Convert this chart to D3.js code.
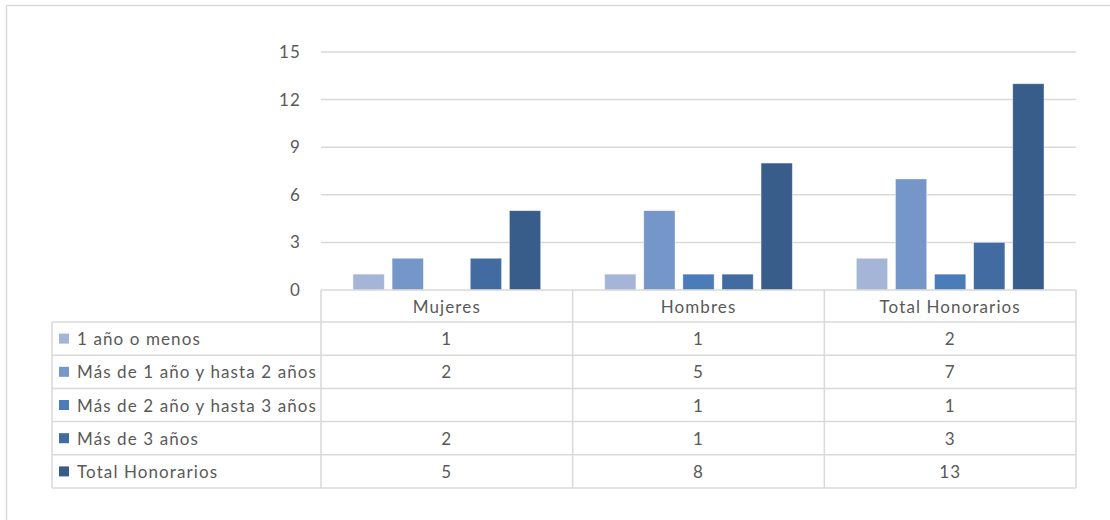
<!DOCTYPE html>
<html>
<head>
<meta charset="utf-8">
<script src="https://cdn.jsdelivr.net/npm/d3@7"></script>
<style>
  html, body { margin: 0; padding: 0; background: #fff; }
  svg { display: block; }
  text { font-family: Lato, "Open Sans", sans-serif; fill: #595959; letter-spacing: 1.1px; }
</style>
</head>
<body>
<svg id="chart" width="1110" height="520"></svg>
<script>
// Categories (columns) and series (rows of the data table)
const categories = ["Mujeres", "Hombres", "Total Honorarios"];
const seriesNames = [
  "1 año o menos",
  "Más de 1 año y hasta 2 años",
  "Más de 2 año y hasta 3 años",
  "Más de 3 años",
  "Total Honorarios"
];
const valsUnoOMenos = [1, 1, 2];
const valsUnoADos = [2, 5, 7];
const valsDosATres = [null, 1, 1];
const valsMasDeTres = [2, 1, 3];
const valsTotal = [5, 8, 13];
const seriesValues = [valsUnoOMenos, valsUnoADos, valsDosATres, valsMasDeTres, valsTotal];
const seriesColors = ["#a4b5d8", "#7596c8", "#4a7cb9", "#426ca1", "#385d8a"];
const yTicks = [0, 3, 6, 9, 12, 15];

const svg = d3.select("#chart");
const fs = 17;

// Outer chart frame
svg.append("rect")
  .attr("x", 6.5).attr("y", 5.5)
  .attr("width", 1120).attr("height", 530)
  .attr("fill", "none").attr("stroke", "#d9d9d9").attr("stroke-width", 1.5);

const plotLeft = 321, plotRight = 1076, plotTop = 52, plotBottom = 290;
const tableLeft = 52, rowH = 33.2, headerH = 32;

const x = d3.scaleBand().domain(categories).range([plotLeft, plotRight]).padding(0);
const cw = x.bandwidth();
const xs = d3.scaleBand().domain(d3.range(seriesNames.length))
  .range([32, cw - 32]).paddingInner(0.2).paddingOuter(0);
const y = d3.scaleLinear().domain([0, 15]).range([plotBottom, plotTop]);

// Gridlines
svg.append("g").selectAll("line").data(yTicks.filter(d => d > 0)).join("line")
  .attr("x1", plotLeft).attr("x2", plotRight)
  .attr("y1", d => y(d)).attr("y2", d => y(d))
  .attr("stroke", "#d9d9d9").attr("stroke-width", 1.5);

// Y axis labels
const yAxis = d3.axisLeft(y).tickValues(yTicks).tickSize(0).tickPadding(0);
const gy = svg.append("g").attr("transform", `translate(${plotLeft - 20},0)`).call(yAxis);
gy.select(".domain").remove();
gy.selectAll("text")
  .style("font-family", "Lato, 'Open Sans', sans-serif")
  .style("letter-spacing", "1.1px")
  .attr("font-size", fs).attr("fill", "#595959");

// Bars
seriesValues.forEach((vals, si) => {
  svg.append("g").selectAll("rect")
    .data(vals.map((v, ci) => ({ v, c: categories[ci] })).filter(d => d.v != null))
    .join("rect")
    .attr("x", d => x(d.c) + xs(si))
    .attr("width", xs.bandwidth())
    .attr("y", d => y(d.v))
    .attr("height", d => y(0) - y(d.v))
    .attr("fill", seriesColors[si])
    .attr("stroke", "#ffffff").attr("stroke-opacity", 0.5).attr("stroke-width", 0.8);
});

// Data table
const tbl = svg.append("g");
const lineColor = "#d9d9d9";
const tableBottom = plotBottom + headerH + rowH * seriesNames.length;

// horizontal lines
tbl.append("line").attr("x1", plotLeft).attr("x2", plotRight)
  .attr("y1", plotBottom).attr("y2", plotBottom)
  .attr("stroke", lineColor).attr("stroke-width", 1.5);
d3.range(seriesNames.length + 1).forEach(i => {
  const yy = plotBottom + headerH + i * rowH;
  tbl.append("line").attr("x1", tableLeft).attr("x2", plotRight)
    .attr("y1", yy).attr("y2", yy)
    .attr("stroke", lineColor).attr("stroke-width", 1.5);
});
// vertical lines
tbl.append("line").attr("x1", tableLeft).attr("x2", tableLeft)
  .attr("y1", plotBottom + headerH).attr("y2", tableBottom)
  .attr("stroke", lineColor).attr("stroke-width", 1.5);
[plotLeft, ...categories.map(c => x(c) + cw)].forEach(xx => {
  tbl.append("line").attr("x1", xx).attr("x2", xx)
    .attr("y1", plotBottom).attr("y2", tableBottom)
    .attr("stroke", lineColor).attr("stroke-width", 1.5);
});

// header labels
tbl.selectAll("text.cat").data(categories).join("text").attr("class", "cat")
  .attr("x", d => x(d) + cw / 2).attr("y", plotBottom + headerH / 2)
  .attr("text-anchor", "middle").attr("dominant-baseline", "central")
  .attr("font-size", fs).text(d => d);

// rows
seriesNames.forEach((name, si) => {
  const cy = plotBottom + headerH + si * rowH + rowH / 2;
  tbl.append("rect").attr("x", 59).attr("y", cy - 5).attr("width", 10).attr("height", 10)
    .attr("fill", seriesColors[si]);
  tbl.append("text").attr("x", 77).attr("y", cy)
    .attr("dominant-baseline", "central").attr("font-size", fs).text(name);
  seriesValues[si].forEach((v, ci) => {
    if (v == null) return;
    tbl.append("text").attr("x", x(categories[ci]) + cw / 2).attr("y", cy)
      .attr("text-anchor", "middle").attr("dominant-baseline", "central")
      .attr("font-size", fs).text(v);
  });
});
</script>
</body>
</html>
